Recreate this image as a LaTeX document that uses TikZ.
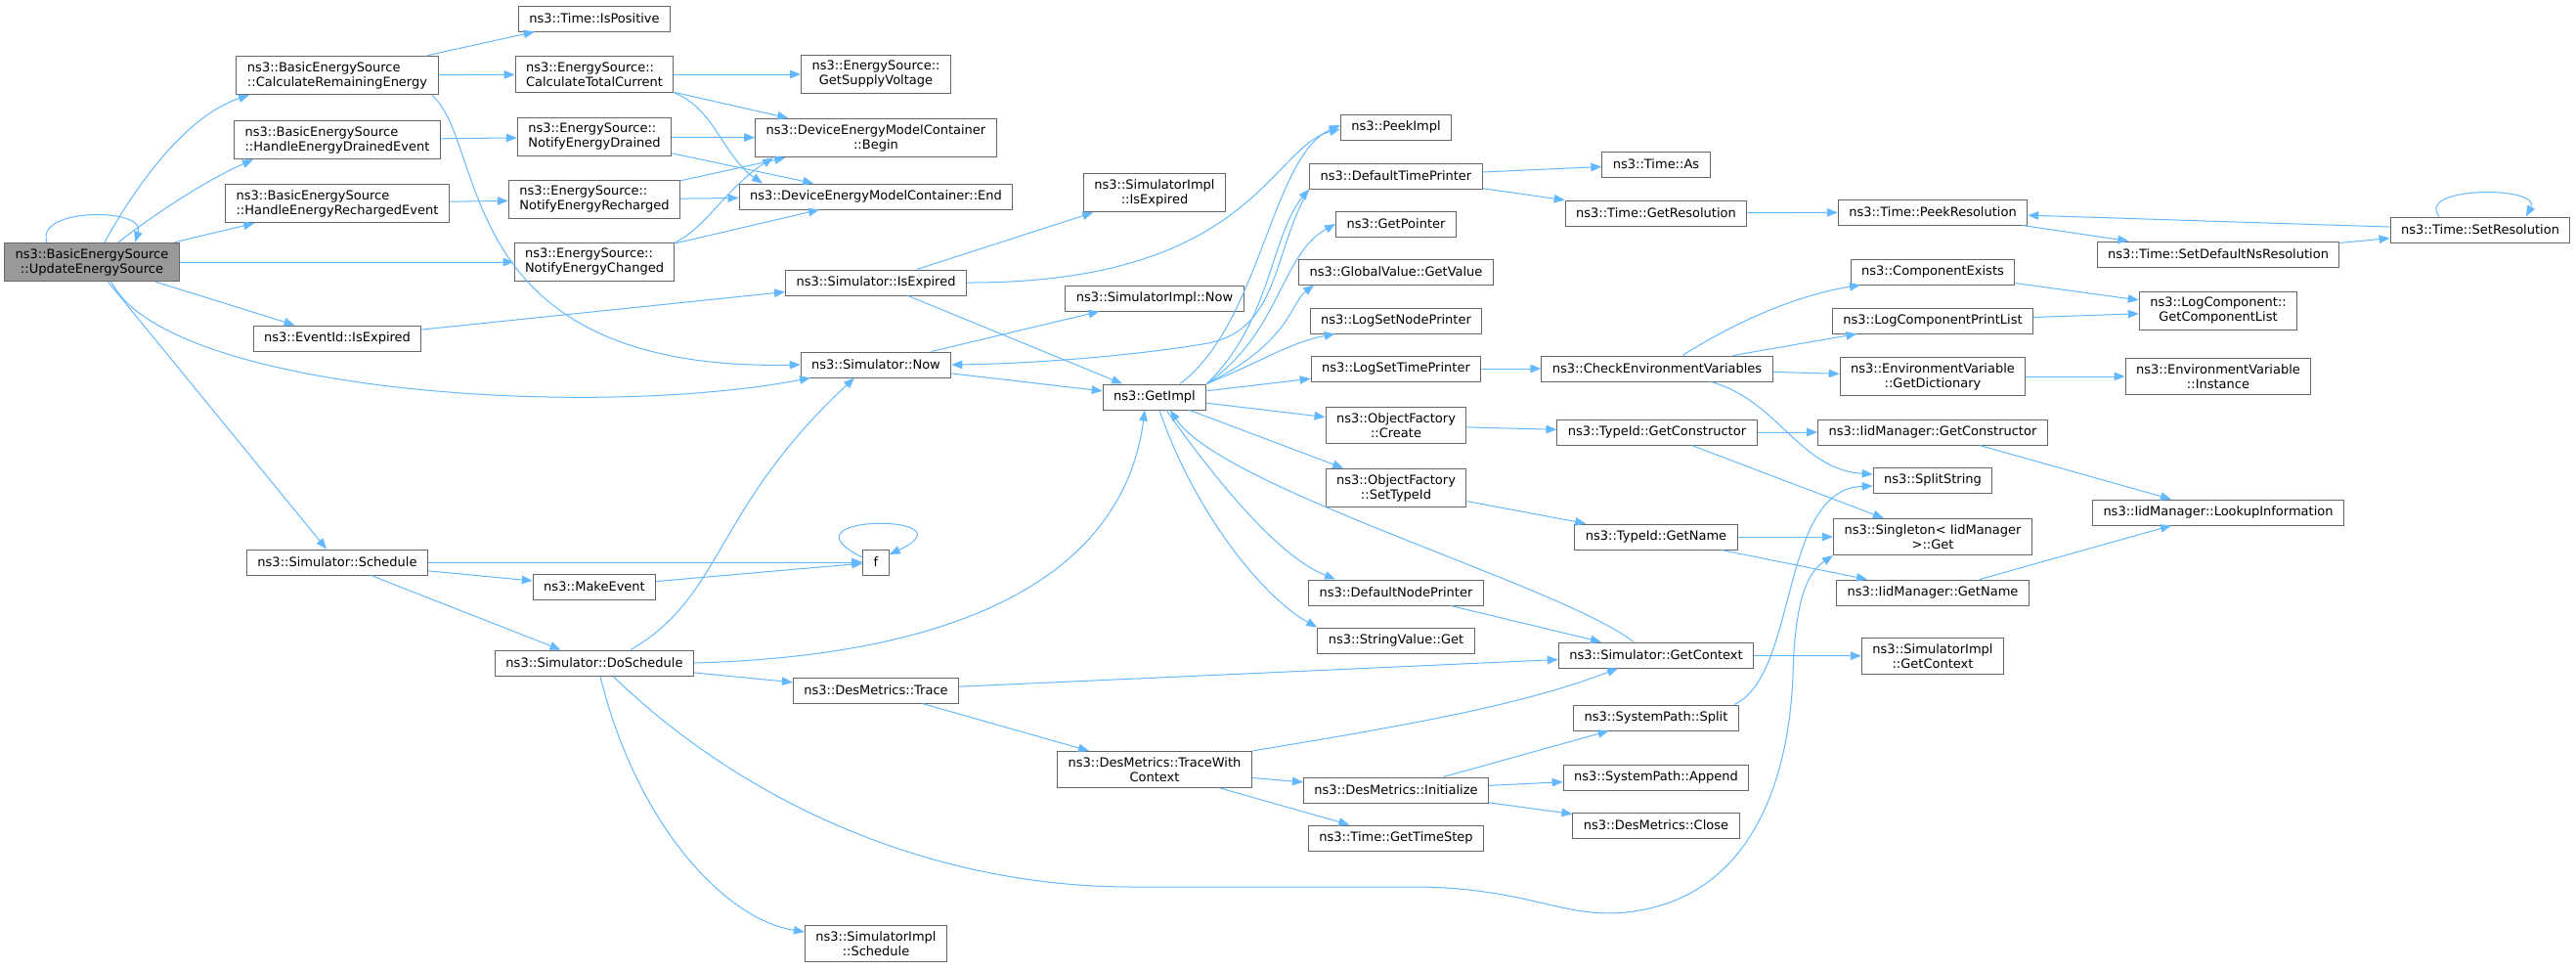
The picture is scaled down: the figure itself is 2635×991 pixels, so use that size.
\documentclass[tikz,border=0pt]{standalone}
\usepackage{fontspec}
\newfontfamily\fnfont{DejaVu Sans}
\usetikzlibrary{arrows.meta}
\definecolor{edgeblue}{HTML}{63B8FF}
\definecolor{boxgray}{HTML}{666666}
\definecolor{rootgray}{HTML}{999999}
\tikzset{
	fn/.style={draw=boxgray, line width=1pt, fill=white, font=\fnfont\fontsize{13}{15}\selectfont, align=center, inner xsep=11pt, inner ysep=6pt, minimum height=26pt},
	fnleft/.style={fn, align=left},
	root/.style={fn, fill=rootgray},
	call/.style={color=edgeblue, line width=1pt, -{Triangle[length=11pt,width=8.5pt,fill=edgeblue]}}
}
\begin{document}
\begin{tikzpicture}[x=1pt,y=-1pt]
	\useasboundingbox (0,0) rectangle (2635,991);
	\node[root] at (94,268) (u) {ns3::BasicEnergySource\\::UpdateEnergySource};
	\node[fnleft] at (345,77) (cre) {ns3::BasicEnergySource\\::CalculateRemainingEnergy};
	\node[fnleft] at (345,143) (hed) {ns3::BasicEnergySource\\::HandleEnergyDrainedEvent};
	\node[fnleft] at (345,208) (her) {ns3::BasicEnergySource\\::HandleEnergyRechargedEvent};
	\node[fn] at (345,346) (eid) {ns3::EventId::IsExpired};
	\node[fn] at (345,575) (sched) {ns3::Simulator::Schedule};
	\node[fn] at (608,19) (ispos) {ns3::Time::IsPositive};
	\node[fnleft] at (608,76) (ctc) {ns3::EnergySource::\\CalculateTotalCurrent};
	\node[fnleft] at (608,140) (ned) {ns3::EnergySource::\\NotifyEnergyDrained};
	\node[fnleft] at (608,204) (ner) {ns3::EnergySource::\\NotifyEnergyRecharged};
	\node[fnleft] at (608,268) (nec) {ns3::EnergySource::\\NotifyEnergyChanged};
	\node[fn] at (608,600) (mkev) {ns3::MakeEvent};
	\node[fn] at (608,678) (dosched) {ns3::Simulator::DoSchedule};
	\node[fn] at (896,76) (supv) {ns3::EnergySource::\\GetSupplyVoltage};
	\node[fn] at (896,141) (dembegin) {ns3::DeviceEnergyModelContainer\\::Begin};
	\node[fn] at (896,201) (demend) {ns3::DeviceEnergyModelContainer::End};
	\node[fn] at (896,289) (simexp) {ns3::Simulator::IsExpired};
	\node[fn] at (896,373) (now) {ns3::Simulator::Now};
	\node[fn] at (896,575) (f) {f};
	\node[fn] at (896,706) (dmtrace) {ns3::DesMetrics::Trace};
	\node[fn] at (896,965) (simplsched) {ns3::SimulatorImpl\\::Schedule};
	\node[fn] at (1181,197) (simplexp) {ns3::SimulatorImpl\\::IsExpired};
	\node[fn] at (1181,305) (simplnow) {ns3::SimulatorImpl::Now};
	\node[fn] at (1181,406) (getimpl) {ns3::GetImpl};
	\node[fn] at (1181,787) (twc) {ns3::DesMetrics::TraceWith\\Context};
	\node[fn] at (1428,130) (peekimpl) {ns3::PeekImpl};
	\node[fn] at (1428,180) (dtp) {ns3::DefaultTimePrinter};
	\node[fn] at (1428,229) (getptr) {ns3::GetPointer};
	\node[fn] at (1428,278) (gvget) {ns3::GlobalValue::GetValue};
	\node[fn] at (1428,328) (lsnp) {ns3::LogSetNodePrinter};
	\node[fn] at (1428,377) (lstp) {ns3::LogSetTimePrinter};
	\node[fn] at (1428,435) (ofcreate) {ns3::ObjectFactory\\::Create};
	\node[fn] at (1428,499) (ofsettid) {ns3::ObjectFactory\\::SetTypeId};
	\node[fn] at (1428,606) (dnp) {ns3::DefaultNodePrinter};
	\node[fn] at (1428,655) (svget) {ns3::StringValue::Get};
	\node[fn] at (1428,808) (dminit) {ns3::DesMetrics::Initialize};
	\node[fn] at (1428,857) (timestep) {ns3::Time::GetTimeStep};
	\node[fn] at (1694,168) (timeas) {ns3::Time::As};
	\node[fn] at (1694,218) (getres) {ns3::Time::GetResolution};
	\node[fn] at (1695,377) (cev) {ns3::CheckEnvironmentVariables};
	\node[fn] at (1695,442) (tidctor) {ns3::TypeId::GetConstructor};
	\node[fn] at (1694,549) (tidname) {ns3::TypeId::GetName};
	\node[fn] at (1694,670) (getctx) {ns3::Simulator::GetContext};
	\node[fn] at (1694,734) (spsplit) {ns3::SystemPath::Split};
	\node[fn] at (1694,795) (spappend) {ns3::SystemPath::Append};
	\node[fn] at (1694,844) (dmclose) {ns3::DesMetrics::Close};
	\node[fn] at (1977,217) (peekres) {ns3::Time::PeekResolution};
	\node[fn] at (1977,278) (compex) {ns3::ComponentExists};
	\node[fn] at (1977,328) (lcpl) {ns3::LogComponentPrintList};
	\node[fn] at (1977,385) (envdict) {ns3::EnvironmentVariable\\::GetDictionary};
	\node[fn] at (1977,442) (iidctor) {ns3::IidManager::GetConstructor};
	\node[fn] at (1977,491) (splitstr) {ns3::SplitString};
	\node[fn] at (1977,549) (singleton) {ns3::Singleton< IidManager\\ >::Get};
	\node[fn] at (1977,606) (iidname) {ns3::IidManager::GetName};
	\node[fn] at (1977,671) (simplctx) {ns3::SimulatorImpl\\::GetContext};
	\node[fn] at (2269,260) (setdefns) {ns3::Time::SetDefaultNsResolution};
	\node[fn] at (2269,318) (lcgcl) {ns3::LogComponent::\\GetComponentList};
	\node[fn] at (2269,385) (envinst) {ns3::EnvironmentVariable\\::Instance};
	\node[fn] at (2269,524) (lookup) {ns3::IidManager::LookupInformation};
	\node[fn] at (2537,235) (setres) {ns3::Time::SetResolution};
	\path[call] (u) edge (nec)
	(u) edge (her)
	(u) edge (eid)
	(u) edge (sched)
	(cre) edge (ispos)
	(cre) edge (ctc)
	(hed) edge (ned)
	(her) edge (ner)
	(ctc) edge (supv)
	(ctc) edge (dembegin)
	(ned) edge (dembegin)
	(ned) edge (demend)
	(ner) edge (dembegin)
	(ner) edge (demend)
	(nec) edge (demend)
	(eid) edge (simexp)
	(simexp) edge (simplexp)
	(simexp) edge (getimpl)
	(now) edge (simplnow)
	(now) edge (getimpl)
	(sched) edge (f)
	(sched) edge (mkev)
	(mkev) edge (f)
	(sched) edge (dosched)
	(dosched) edge (dmtrace)
	(dmtrace) edge (getctx)
	(dmtrace) edge (twc)
	(twc) edge (dminit)
	(twc) edge (timestep)
	(dminit) edge (spsplit)
	(dminit) edge (spappend)
	(dminit) edge (dmclose)
	(getimpl) edge (lstp)
	(getimpl) edge (ofcreate)
	(getimpl) edge (ofsettid)
	(dnp) edge (getctx)
	(getctx) edge (simplctx)
	(dtp) edge (timeas)
	(dtp) edge (getres)
	(getres) edge (peekres)
	(peekres) edge (setdefns)
	(setdefns) edge (setres)
	(setres) edge (peekres)
	(lstp) edge (cev)
	(cev) edge (lcpl)
	(cev) edge (envdict)
	(ofcreate) edge (tidctor)
	(ofsettid) edge (tidname)
	(tidctor) edge (iidctor)
	(tidctor) edge (singleton)
	(tidname) edge (singleton)
	(tidname) edge (iidname)
	(iidctor) edge (lookup)
	(iidname) edge (lookup)
	(compex) edge (lcgcl)
	(lcpl) edge (lcgcl)
	(envdict) edge (envinst);
	\draw[call] ([xshift=13pt]u.north) .. controls (150,170) and (200,115) .. ([xshift=-90pt]cre.south);
	\draw[call] ([xshift=27pt]u.north) .. controls (170,210) and (220,180) .. ([xshift=-86pt]hed.south);
	\draw[call] ([xshift=-46pt]u.north) .. controls (35,212) and (150,212) .. ([xshift=44pt]u.north);
	\draw[call] ([xshift=20pt]u.south) .. controls (170,400) and (600,430) .. ([xshift=-67pt]now.south);
	\draw[call] ([xshift=97pt]cre.south) .. controls (500,150) and (460,380) .. (now.west);
	\draw[call] (ctc.south east) .. controls (730,110) and (740,160) .. ([xshift=-116pt]demend.north);
	\draw[call] (nec.north east) .. controls (720,235) and (745,190) .. ([xshift=-105pt]dembegin.south);
	\draw[call] (simexp.east) .. controls (1280,290) and (1300,150) .. ([yshift=-2pt]peekimpl.west);
	\draw[call] ([xshift=26pt]getimpl.north) .. controls (1290,330) and (1300,160) .. ([yshift=2pt]peekimpl.west);
	\draw[call] (getimpl.north east) .. controls (1300,330) and (1300,240) .. (dtp.south west);
	\draw[call] (getimpl.north east) .. controls (1310,340) and (1310,260) .. (getptr.west);
	\draw[call] (getimpl.north east) .. controls (1320,350) and (1320,310) .. ([xshift=16pt]gvget.south west);
	\draw[call] (getimpl.north east) .. controls (1290,370) and (1320,350) .. ([xshift=26pt]lsnp.south west);
	\draw[call] (dtp.south west) .. controls (1300,260) and (1310,340) .. (1230,352) .. controls (1150,365) and (1050,372) .. (now.east);
	\draw[call] ([xshift=12pt]getimpl.south) .. controls (1250,500) and (1310,570) .. ([xshift=-62pt]dnp.north);
	\draw[call] ([xshift=5pt]getimpl.south) .. controls (1220,520) and (1290,610) .. (svget.north west);
	\draw[call] ([xshift=-23pt]getctx.north) .. controls (1600,600) and (1250,500) .. ([xshift=16pt]getimpl.south);
	\draw[call] (dosched.east) .. controls (1000,670) and (1150,580) .. ([xshift=-10pt]getimpl.south);
	\draw[call] ([xshift=37pt]dosched.north) .. controls (740,610) and (730,520) .. ([xshift=-22pt]now.south);
	\draw[call] ([xshift=6pt]dosched.south) .. controls (650,840) and (740,940) .. ([yshift=12pt]simplsched.west);
	\draw[call] ([xshift=19pt]dosched.south) .. controls (760,820) and (950,907) .. (1158,907) -- (1445,907) .. controls (1560,907) and (1600,940) .. (1663,933) .. controls (1790,920) and (1830,800) .. (1834,690) .. controls (1836,610) and (1850,585) .. (singleton.south west);
	\draw[call] (twc.north east) .. controls (1450,740) and (1560,720) .. ([xshift=-39pt]getctx.south);
	\draw[call] ([xshift=80pt]spsplit.north) .. controls (1840,690) and (1820,500) .. ([yshift=-6pt]splitstr.west);
	\draw[call] ([xshift=55pt]cev.south) .. controls (1820,410) and (1840,480) .. ([yshift=6pt]splitstr.west);
	\draw[call] ([xshift=26pt]cev.north) .. controls (1790,320) and (1850,300) .. ([xshift=-74pt]compex.south);
	\draw[call] ([yshift=5pt]f.west) .. controls (790,525) and (1000,525) .. ([yshift=8pt]f.east);
	\draw[call] ([xshift=-42pt]setres.north) .. controls (2470,190) and (2600,190) .. ([xshift=47pt]setres.north);
\end{tikzpicture}
\end{document}
